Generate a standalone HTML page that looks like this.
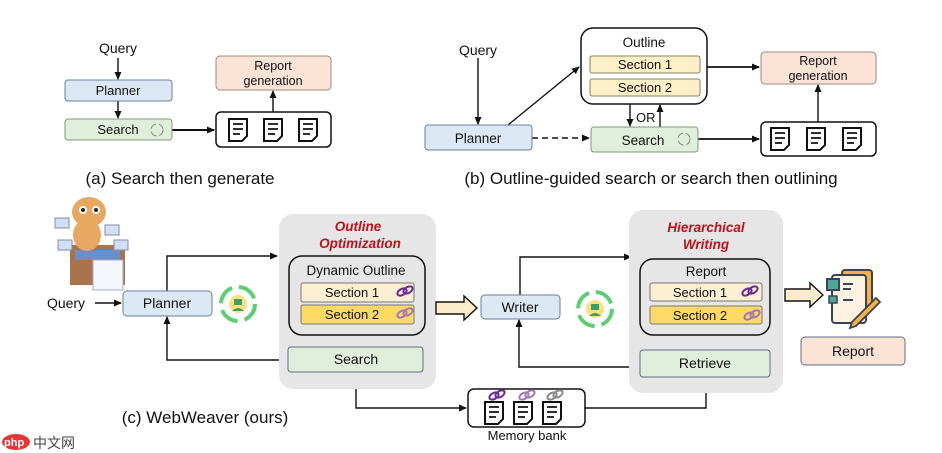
<!DOCTYPE html>
<html><head><meta charset="utf-8"><style>
html,body{margin:0;padding:0;background:#fff;}
svg{display:block;}
text{font-family:"Liberation Sans","Noto Sans CJK SC",sans-serif;fill:#111;}
</style></head><body>
<svg width="942" height="453" viewBox="0 0 942 453" xmlns="http://www.w3.org/2000/svg">
<defs>
<marker id="ah" markerWidth="8" markerHeight="8" refX="7" refY="4" orient="auto" markerUnits="userSpaceOnUse">
<path d="M0,0.5 L8,4 L0,7.5 Z" fill="#111"/></marker>
<g id="doc"><path d="M0,0 h18 v17 l-5,5 h-13 z" fill="#fff" stroke="#111" stroke-width="2"/><path d="M4,5h10M4,10h10M4,15h7" stroke="#111" stroke-width="1.8"/></g>
<g id="cyc"><circle r="17" fill="none" stroke="#5ccf73" stroke-width="4" stroke-dasharray="20 7"/><circle r="9" fill="#ffe27a"/><rect x="-4" y="-5" width="8" height="6" fill="#3c9e6b"/><path d="M-6,7 q6,-6 12,0" fill="#3c9e6b"/></g>
<g id="link"><ellipse cx="-3" cy="0" rx="5" ry="3" fill="none" stroke-width="2" transform="rotate(-30 -3 0)"/><ellipse cx="3" cy="-2" rx="5" ry="3" fill="none" stroke-width="2" transform="rotate(-30 3 -2)"/></g>
</defs>
<g stroke="#111" stroke-width="1.4" fill="none">
<!-- (a) -->
<line x1="118" y1="58" x2="118" y2="79" marker-end="url(#ah)"/>
<line x1="118" y1="100" x2="118" y2="118" marker-end="url(#ah)"/>
<line x1="172" y1="130" x2="214" y2="130" stroke-width="2" marker-end="url(#ah)"/>
<line x1="273" y1="112" x2="273" y2="91" marker-end="url(#ah)"/>
<!-- (b) -->
<line x1="478" y1="58" x2="478" y2="124" marker-end="url(#ah)"/>
<line x1="508" y1="125" x2="579" y2="67" marker-end="url(#ah)"/>
<line x1="532" y1="138" x2="589" y2="138" stroke-dasharray="6 4" marker-end="url(#ah)"/>
<line x1="698" y1="139" x2="759" y2="139" stroke-width="1.8" marker-end="url(#ah)"/>
<line x1="707" y1="67" x2="759" y2="67" stroke-width="1.8" marker-end="url(#ah)"/>
<line x1="818" y1="122" x2="818" y2="85" marker-end="url(#ah)"/>
<line x1="630" y1="104" x2="630" y2="126" marker-end="url(#ah)"/>
<line x1="660" y1="127" x2="660" y2="105" marker-end="url(#ah)"/>
<!-- (c) -->
<line x1="95" y1="303" x2="121" y2="303" marker-end="url(#ah)"/>
<polyline points="167,291 167,256 277,256" marker-end="url(#ah)"/>
<polyline points="279,360 167,360 167,317" marker-end="url(#ah)"/>
<polyline points="356,372 356,408 466,408" marker-end="url(#ah)"/>
<polyline points="520,295 520,257 631,257" marker-end="url(#ah)"/>
<polyline points="631,367 519,367 519,320" marker-end="url(#ah)"/>
<polyline points="585,408 706,408 706,379" marker-end="url(#ah)"/>
</g>
<!-- (a) boxes -->
<text x="118" y="53" font-size="14" text-anchor="middle">Query</text>
<rect x="65" y="80" width="107" height="21" rx="3" fill="#dde8f5" stroke="#6b7f99"/>
<text x="118" y="95" font-size="13" text-anchor="middle">Planner</text>
<rect x="65" y="119" width="107" height="21" rx="3" fill="#e1eedb" stroke="#7d9b78"/>
<text x="118" y="134" font-size="13" text-anchor="middle">Search</text>
<circle cx="157" cy="130" r="6" fill="none" stroke="#888" stroke-dasharray="7 3"/>
<rect x="216" y="56" width="115" height="34" rx="4" fill="#fbe3d6" stroke="#9b8a80"/>
<text x="273" y="70" font-size="12.5" text-anchor="middle">Report</text>
<text x="273" y="85" font-size="12.5" text-anchor="middle">generation</text>
<rect x="216" y="112" width="115" height="35" rx="5" fill="#fff" stroke="#111" stroke-width="1.5"/>
<use href="#doc" x="229" y="119"/><use href="#doc" x="264" y="119"/><use href="#doc" x="299" y="119"/>
<text x="180" y="184" font-size="17" text-anchor="middle">(a) Search then generate</text>
<!-- (b) boxes -->
<text x="478" y="55" font-size="14" text-anchor="middle">Query</text>
<rect x="425" y="125" width="107" height="25" rx="3" fill="#dde8f5" stroke="#6b7f99"/>
<text x="478" y="143" font-size="13.5" text-anchor="middle">Planner</text>
<rect x="581" y="28" width="126" height="76" rx="12" fill="#fff" stroke="#111" stroke-width="1.5"/>
<text x="644" y="47" font-size="13.5" text-anchor="middle">Outline</text>
<rect x="590" y="56" width="110" height="17" rx="2" fill="#fdefc8" stroke="#8a8066"/>
<text x="645" y="69" font-size="13" text-anchor="middle">Section 1</text>
<rect x="590" y="79" width="110" height="17" rx="2" fill="#fdefc8" stroke="#8a8066"/>
<text x="645" y="92" font-size="13" text-anchor="middle">Section 2</text>
<text x="636" y="122" font-size="13">OR</text>
<rect x="591" y="127" width="107" height="25" rx="3" fill="#e1eedb" stroke="#7d9b78"/>
<text x="643" y="145" font-size="13.5" text-anchor="middle">Search</text>
<circle cx="684" cy="139" r="6" fill="none" stroke="#888" stroke-dasharray="7 3"/>
<rect x="761" y="52" width="115" height="32" rx="4" fill="#fbe3d6" stroke="#9b8a80"/>
<text x="818" y="65" font-size="12.5" text-anchor="middle">Report</text>
<text x="818" y="80" font-size="12.5" text-anchor="middle">generation</text>
<rect x="761" y="122" width="115" height="34" rx="5" fill="#fff" stroke="#111" stroke-width="1.5"/>
<use href="#doc" x="771" y="128"/><use href="#doc" x="807" y="128"/><use href="#doc" x="843" y="128"/>
<text x="651" y="184" font-size="17" text-anchor="middle">(b) Outline-guided search or search then outlining</text>
<!-- (c) meerkat sketch -->
<g>
<rect x="70" y="245" width="55" height="40" fill="#9a5a2e" opacity="0.85"/>
<rect x="75" y="250" width="45" height="10" fill="#6a8fc8"/>
<rect x="93" y="260" width="30" height="30" fill="#f3f6fb" stroke="#aac"/>
<ellipse cx="87" cy="235" rx="14" ry="16" fill="#e8a862"/>
<ellipse cx="89" cy="212" rx="17" ry="15" fill="#e8a862"/>
<circle cx="83" cy="210" r="4" fill="#fff"/><circle cx="96" cy="210" r="4" fill="#fff"/>
<circle cx="83" cy="210" r="2" fill="#222"/><circle cx="96" cy="210" r="2" fill="#222"/>
<rect x="55" y="218" width="14" height="10" fill="#cfe0f5" stroke="#88a"/>
<rect x="58" y="240" width="14" height="10" fill="#cfe0f5" stroke="#88a"/>
<rect x="105" y="225" width="14" height="10" fill="#cfe0f5" stroke="#88a"/>
<rect x="114" y="240" width="14" height="10" fill="#cfe0f5" stroke="#88a"/>
</g>
<text x="66" y="308" font-size="14" text-anchor="middle">Query</text>
<rect x="123" y="291" width="89" height="25" rx="4" fill="#dde8f5" stroke="#6b7f99"/>
<text x="167" y="308" font-size="14" text-anchor="middle">Planner</text>
<use href="#cyc" x="238" y="304"/>
<rect x="279" y="214" width="157" height="175" rx="14" fill="#e6e6e6"/>
<text x="358" y="231" font-size="13.5" font-weight="bold" font-style="italic" text-anchor="middle" style="fill:#c0101a">Outline</text>
<text x="360" y="248" font-size="13.5" font-weight="bold" font-style="italic" text-anchor="middle" style="fill:#c0101a">Optimization</text>
<rect x="289" y="256" width="136" height="79" rx="13" fill="#e6e6e6" stroke="#111" stroke-width="1.5"/>
<text x="356" y="275" font-size="13.5" text-anchor="middle">Dynamic Outline</text>
<rect x="301" y="283" width="113" height="19" rx="2" fill="#fdf0d2" stroke="#777"/>
<text x="352" y="297" font-size="13" text-anchor="middle">Section 1</text>
<use href="#link" x="405" y="292" stroke="#6a2a9a"/>
<rect x="301" y="305" width="113" height="19" rx="2" fill="#ffd966" stroke="#777"/>
<text x="352" y="319" font-size="13" text-anchor="middle">Section 2</text>
<use href="#link" x="405" y="314" stroke="#a37ab5"/>
<rect x="288" y="347" width="135" height="25" rx="3" fill="#e1eedb" stroke="#5d6e85"/>
<text x="356" y="364" font-size="14" text-anchor="middle">Search</text>
<path d="M436,302 h28 v-6 l13,12 l-13,12 v-6 h-28 z" fill="#fbeccb" stroke="#111" stroke-width="1.4"/>
<rect x="481" y="295" width="79" height="24" rx="4" fill="#dde8f5" stroke="#6b7f99"/>
<text x="520" y="312" font-size="14" text-anchor="middle">Writer</text>
<use href="#cyc" x="595" y="309"/>
<rect x="629" y="210" width="154" height="183" rx="14" fill="#e6e6e6"/>
<text x="706" y="232" font-size="13.5" font-weight="bold" font-style="italic" text-anchor="middle" style="fill:#c0101a">Hierarchical</text>
<text x="706" y="249" font-size="13.5" font-weight="bold" font-style="italic" text-anchor="middle" style="fill:#c0101a">Writing</text>
<rect x="640" y="259" width="130" height="76" rx="13" fill="#e6e6e6" stroke="#111" stroke-width="1.5"/>
<text x="706" y="276" font-size="13.5" text-anchor="middle">Report</text>
<rect x="650" y="283" width="112" height="18" rx="2" fill="#fdf0d2" stroke="#777"/>
<text x="700" y="297" font-size="13" text-anchor="middle">Section 1</text>
<use href="#link" x="750" y="292" stroke="#6a2a9a"/>
<rect x="650" y="306" width="112" height="18" rx="2" fill="#ffd966" stroke="#777"/>
<text x="700" y="320" font-size="13" text-anchor="middle">Section 2</text>
<use href="#link" x="752" y="316" stroke="#a37ab5"/>
<rect x="640" y="350" width="130" height="27" rx="3" fill="#e1eedb" stroke="#5d6e85"/>
<text x="705" y="368" font-size="14" text-anchor="middle">Retrieve</text>
<path d="M785,289 h25 v-6 l13,12 l-13,12 v-6 h-25 z" fill="#fbeccb" stroke="#111" stroke-width="1.4"/>
<!-- report icon -->
<g>
<rect x="842" y="270" width="30" height="40" rx="3" fill="#f6b343" stroke="#3a4357" stroke-width="2"/>
<rect x="832" y="275" width="34" height="48" rx="3" fill="#fdf1e0" stroke="#3a4357" stroke-width="2"/>
<rect x="827" y="279" width="12" height="11" fill="#4ea89a" stroke="#3a4357" stroke-width="2"/>
<rect x="829" y="296" width="8" height="7" fill="#4ea89a" stroke="#3a4357" stroke-width="1.5"/>
<path d="M843,284h10M843,289h8M843,300h10" stroke="#3a4357" stroke-width="2"/>
<path d="M852,322 l24,-24 l4,4 l-24,24 l-6,2 z" fill="#f6b343" stroke="#3a4357" stroke-width="1.8"/>
</g>
<rect x="801" y="337" width="104" height="28" rx="4" fill="#fbe3d6" stroke="#5d6e85"/>
<text x="853" y="356" font-size="14" text-anchor="middle">Report</text>
<rect x="468" y="389" width="117" height="38" rx="6" fill="#fff" stroke="#111" stroke-width="1.5"/>
<use href="#doc" x="485" y="402" transform="translate(-0,0)"/><use href="#doc" x="514" y="402"/><use href="#doc" x="543" y="402"/>
<use href="#link" x="497" y="396" stroke="#6a2a9a"/><use href="#link" x="527" y="396" stroke="#a37ab5"/><use href="#link" x="555" y="396" stroke="#888"/>
<text x="527" y="440" font-size="13" text-anchor="middle">Memory bank</text>
<text x="205" y="423" font-size="17" text-anchor="middle">(c) WebWeaver (ours)</text>
<ellipse cx="16" cy="442" rx="14" ry="8" fill="#e33"/>
<text x="4" y="446" font-size="11" font-weight="bold" style="fill:#fff">php</text>
<text x="33" y="448" font-size="14" style="fill:#444">中文网</text>
</svg>
</body></html>
